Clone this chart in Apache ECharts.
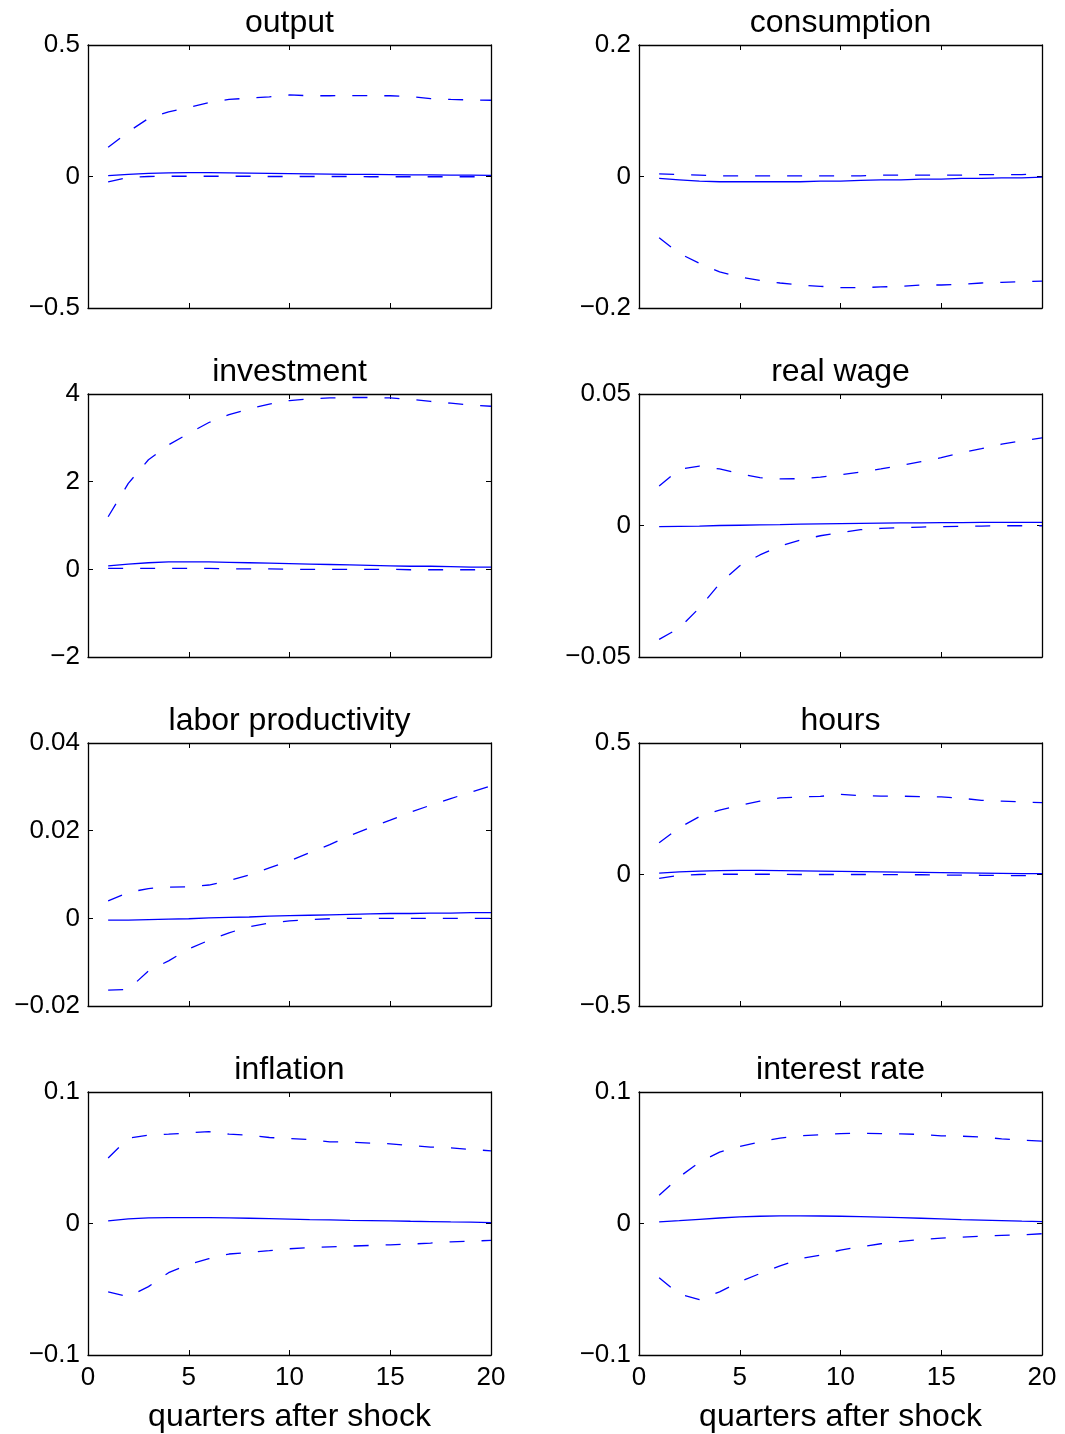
<!DOCTYPE html>
<html>
<head>
<meta charset="utf-8">
<script src="https://cdn.jsdelivr.net/npm/echarts@6/dist/echarts.min.js"></script>
<style>
  html, body { margin: 0; padding: 0; background: #ffffff; }
  #chart { width: 1065px; height: 1434px; }
</style>
</head>
<body>
<div id="chart"></div>
<script>
// Impulse responses: median (solid) with lower/upper bands (dashed), quarters 1..20
const quarters = [1, 2, 3, 4, 5, 6, 7, 8, 9, 10, 11, 12, 13, 14, 15, 16, 17, 18, 19, 20];

const panelTitles = ['output', 'consumption', 'investment', 'real wage',
                     'labor productivity', 'hours', 'inflation', 'interest rate'];

const outputMedian = [0.003, 0.008, 0.012, 0.014, 0.015, 0.015, 0.014, 0.013, 0.012, 0.011, 0.010, 0.009, 0.008, 0.008, 0.007, 0.006, 0.006, 0.005, 0.005, 0.004];
const outputLower  = [-0.020, -0.003, 0.000, 0.001, 0.001, 0.001, 0.001, 0.001, 0.000, 0.000, 0.000, 0.000, 0.000, -0.001, -0.001, -0.001, -0.001, -0.001, -0.001, -0.001];
const outputUpper  = [0.111, 0.170, 0.221, 0.246, 0.262, 0.281, 0.293, 0.298, 0.303, 0.310, 0.307, 0.307, 0.308, 0.307, 0.307, 0.304, 0.296, 0.293, 0.291, 0.290];

const consumptionMedian = [-0.003, -0.005, -0.007, -0.008, -0.008, -0.008, -0.008, -0.008, -0.007, -0.007, -0.006, -0.005, -0.005, -0.004, -0.004, -0.003, -0.003, -0.002, -0.002, -0.001];
const consumptionLower  = [-0.093, -0.117, -0.132, -0.145, -0.153, -0.158, -0.162, -0.165, -0.167, -0.169, -0.169, -0.168, -0.167, -0.165, -0.165, -0.164, -0.162, -0.161, -0.160, -0.159];
const consumptionUpper  = [0.004, 0.003, 0.002, 0.001, 0.001, 0.001, 0.001, 0.001, 0.001, 0.001, 0.001, 0.002, 0.002, 0.002, 0.002, 0.002, 0.003, 0.003, 0.003, 0.004];

const investmentMedian = [0.08, 0.12, 0.15, 0.17, 0.17, 0.17, 0.16, 0.15, 0.14, 0.13, 0.12, 0.11, 0.10, 0.09, 0.08, 0.07, 0.07, 0.06, 0.05, 0.05];
const investmentLower  = [0.02, 0.02, 0.02, 0.02, 0.02, 0.02, 0.01, 0.01, 0.01, 0.00, 0.00, 0.00, 0.00, 0.00, 0.00, -0.01, -0.01, -0.01, -0.01, -0.01];
const investmentUpper  = [1.20, 1.96, 2.50, 2.84, 3.10, 3.35, 3.53, 3.66, 3.77, 3.85, 3.89, 3.91, 3.92, 3.92, 3.91, 3.88, 3.83, 3.79, 3.75, 3.72];

const realWageMedian = [-0.0004, -0.0003, -0.0002, 0.0000, 0.0001, 0.0002, 0.0003, 0.0005, 0.0006, 0.0007, 0.0008, 0.0009, 0.0010, 0.0010, 0.0011, 0.0011, 0.0012, 0.0012, 0.0012, 0.0012];
const realWageLower  = [-0.0433, -0.0390, -0.0313, -0.0221, -0.0153, -0.0112, -0.0078, -0.0056, -0.0039, -0.0027, -0.0016, -0.0011, -0.0008, -0.0006, -0.0004, -0.0003, -0.0002, -0.0001, -0.0001, -0.0001];
const realWageUpper  = [0.0150, 0.0214, 0.0226, 0.0215, 0.0197, 0.0182, 0.0177, 0.0178, 0.0184, 0.0193, 0.0203, 0.0215, 0.0228, 0.0243, 0.0258, 0.0277, 0.0292, 0.0309, 0.0322, 0.0333];

const productivityMedian = [-0.0004, -0.0004, -0.0003, -0.0002, -0.0001, 0.0001, 0.0002, 0.0003, 0.0005, 0.0006, 0.0007, 0.0008, 0.0009, 0.0010, 0.0011, 0.0011, 0.0012, 0.0012, 0.0013, 0.0013];
const productivityLower  = [-0.0164, -0.0162, -0.0120, -0.0097, -0.0070, -0.0050, -0.0033, -0.0019, -0.0011, -0.0006, -0.0003, -0.0001, 0.0000, 0.0000, 0.0000, 0.0000, 0.0000, 0.0000, 0.0000, 0.0000];
const productivityUpper  = [0.0040, 0.0059, 0.0068, 0.0071, 0.0072, 0.0076, 0.0086, 0.0099, 0.0115, 0.0131, 0.0150, 0.0168, 0.0189, 0.0207, 0.0224, 0.0242, 0.0258, 0.0273, 0.0288, 0.0302];

const hoursMedian = [0.005, 0.010, 0.013, 0.015, 0.016, 0.016, 0.015, 0.014, 0.013, 0.012, 0.011, 0.010, 0.009, 0.008, 0.007, 0.006, 0.005, 0.004, 0.003, 0.003];
const hoursLower  = [-0.015, -0.003, 0.000, 0.001, 0.001, 0.001, 0.001, 0.000, 0.000, 0.000, 0.000, 0.000, -0.001, -0.001, -0.002, -0.002, -0.003, -0.004, -0.004, -0.004];
const hoursUpper  = [0.121, 0.178, 0.220, 0.245, 0.263, 0.279, 0.291, 0.295, 0.297, 0.305, 0.300, 0.298, 0.298, 0.296, 0.295, 0.290, 0.282, 0.279, 0.276, 0.273];

const inflationMedian = [0.0020, 0.0035, 0.0043, 0.0045, 0.0045, 0.0045, 0.0043, 0.0040, 0.0037, 0.0034, 0.0030, 0.0027, 0.0024, 0.0022, 0.0020, 0.0017, 0.0015, 0.0012, 0.0010, 0.0007];
const inflationLower  = [-0.0520, -0.0556, -0.0480, -0.0374, -0.0311, -0.0268, -0.0232, -0.0220, -0.0207, -0.0192, -0.0184, -0.0177, -0.0172, -0.0167, -0.0162, -0.0157, -0.0149, -0.0139, -0.0134, -0.0129];
const inflationUpper  = [0.0498, 0.0649, 0.0672, 0.0679, 0.0689, 0.0699, 0.0679, 0.0672, 0.0654, 0.0646, 0.0639, 0.0621, 0.0619, 0.0611, 0.0606, 0.0593, 0.0581, 0.0576, 0.0563, 0.0553];

const interestMedian = [0.0013, 0.0022, 0.0032, 0.0042, 0.0050, 0.0055, 0.0058, 0.0058, 0.0057, 0.0055, 0.0052, 0.0048, 0.0044, 0.0040, 0.0035, 0.0030, 0.0026, 0.0022, 0.0018, 0.0015];
const interestLower  = [-0.0412, -0.0538, -0.0578, -0.0520, -0.0442, -0.0381, -0.0323, -0.0268, -0.0240, -0.0202, -0.0177, -0.0154, -0.0136, -0.0121, -0.0111, -0.0104, -0.0096, -0.0091, -0.0086, -0.0078];
const interestUpper  = [0.0215, 0.0354, 0.0465, 0.0543, 0.0586, 0.0621, 0.0649, 0.0667, 0.0674, 0.0684, 0.0687, 0.0684, 0.0682, 0.0677, 0.0667, 0.0664, 0.0657, 0.0644, 0.0634, 0.0626];

// y-axis ranges [min, max, interval] per panel
const yMin      = [-0.5, -0.2, -2, -0.05, -0.02, -0.5, -0.1, -0.1];
const yMax      = [0.5, 0.2, 4, 0.05, 0.04, 0.5, 0.1, 0.1];
const yInterval = [0.5, 0.2, 2, 0.05, 0.02, 0.5, 0.1, 0.1];

const xTickValues = [0, 5, 10, 15, 20];
const xLabel = 'quarters after shock';

const panelSeries = [
  [outputMedian, outputLower, outputUpper],
  [consumptionMedian, consumptionLower, consumptionUpper],
  [investmentMedian, investmentLower, investmentUpper],
  [realWageMedian, realWageLower, realWageUpper],
  [productivityMedian, productivityLower, productivityUpper],
  [hoursMedian, hoursLower, hoursUpper],
  [inflationMedian, inflationLower, inflationUpper],
  [interestMedian, interestLower, interestUpper]
];

const FONT = '"Liberation Sans", Arial, Helvetica, sans-serif';
const LINE_BLUE = '#0000ff';
const colLeft = [88, 639];
const rowTop = [45, 394, 743, 1092];
const plotW = 403, plotH = 263;

const fmtTick = v => {
  const s = String(+v.toFixed(6));
  return s.replace('-', '\u2212');
};

const grids = [], xAxes = [], yAxes = [], titles = [], series = [];
const pairs = arr => quarters.map((q, i) => [q, arr[i]]);

panelTitles.forEach((name, p) => {
  const row = Math.floor(p / 2), col = p % 2;
  const left = colLeft[col], top = rowTop[row];
  const bottomRow = row === 3;
  grids.push({ left: left, top: top, width: plotW, height: plotH, containLabel: false });

  titles.push({
    text: name,
    left: left + plotW / 2,
    top: top - 38,
    padding: 0,
    textAlign: 'center',
    textStyle: { fontFamily: FONT, fontSize: 32, fontWeight: 'normal', color: '#000' }
  });

  const axisLine = { show: true, onZero: false, lineStyle: { color: '#000', width: 1.3 } };
  const tick = { show: true, inside: true, length: 5, lineStyle: { color: '#000', width: 1 } };

  xAxes.push({
    type: 'value', gridIndex: p, position: 'bottom',
    min: 0, max: 20, interval: 5,
    axisLine: axisLine, axisTick: tick, splitLine: { show: false },
    axisLabel: {
      show: bottomRow, fontFamily: FONT, fontSize: 26, color: '#000', margin: 10,
      formatter: v => xTickValues.includes(v) ? String(v) : ''
    },
    name: bottomRow ? xLabel : '',
    nameLocation: 'middle', nameGap: 46,
    nameTextStyle: { fontFamily: FONT, fontSize: 32, color: '#000', verticalAlign: 'top' }
  });
  xAxes.push({
    type: 'value', gridIndex: p, position: 'top',
    min: 0, max: 20, interval: 5,
    axisLine: axisLine, axisTick: tick, axisLabel: { show: false }, splitLine: { show: false }
  });
  yAxes.push({
    type: 'value', gridIndex: p, position: 'left',
    min: yMin[p], max: yMax[p], interval: yInterval[p],
    axisLine: axisLine, axisTick: tick, splitLine: { show: false },
    axisLabel: {
      fontFamily: FONT, fontSize: 26, color: '#000', margin: 8,
      padding: [4, 0, 0, 0], formatter: fmtTick
    }
  });
  yAxes.push({
    type: 'value', gridIndex: p, position: 'right',
    min: yMin[p], max: yMax[p], interval: yInterval[p],
    axisLine: axisLine, axisTick: tick, axisLabel: { show: false }, splitLine: { show: false }
  });

  const [med, lo, hi] = panelSeries[p];
  const base = {
    type: 'line', xAxisIndex: 2 * p, yAxisIndex: 2 * p,
    showSymbol: false, smooth: false, silent: true, animation: false
  };
  series.push(Object.assign({}, base, {
    name: name + ' median', data: pairs(med),
    lineStyle: { color: LINE_BLUE, width: 1.3, type: 'solid' }, z: 3
  }));
  series.push(Object.assign({}, base, {
    name: name + ' lower', data: pairs(lo),
    lineStyle: { color: LINE_BLUE, width: 1.3, type: [15, 17] }, z: 2
  }));
  series.push(Object.assign({}, base, {
    name: name + ' upper', data: pairs(hi),
    lineStyle: { color: LINE_BLUE, width: 1.3, type: [15, 17] }, z: 2
  }));
});

const chart = echarts.init(document.getElementById('chart'), null, { renderer: 'canvas' });
chart.setOption({
  backgroundColor: '#ffffff',
  animation: false,
  title: titles,
  grid: grids,
  xAxis: xAxes,
  yAxis: yAxes,
  series: series
});
</script>
</body>
</html>
